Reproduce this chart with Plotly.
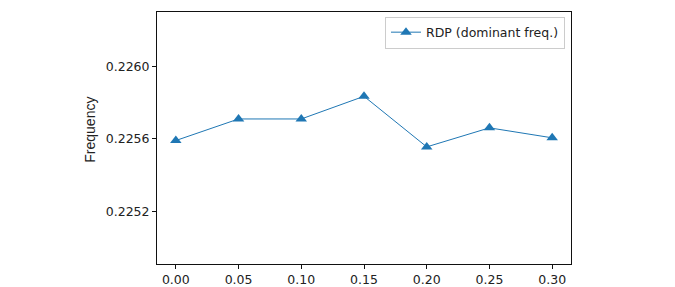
import plotly.graph_objects as go

x_vals = [0.00, 0.05, 0.10, 0.15, 0.20, 0.25, 0.30]
rdp_freq = [0.225591, 0.225710, 0.225710, 0.225835, 0.225556, 0.225661, 0.225606]
x_ticks = [0.00, 0.05, 0.10, 0.15, 0.20, 0.25, 0.30]
y_ticks = [0.2252, 0.2256, 0.2260]
y_label = "Frequency"

fig = go.Figure()
fig.add_trace(go.Scatter(
    x=x_vals, y=rdp_freq, mode="lines+markers",
    name="RDP (dominant freq.)",
    line=dict(color="#1f77b4", width=1),
    marker=dict(symbol="triangle-up", size=10, color="#1f77b4"),
))

axis_common = dict(
    showgrid=False, zeroline=False, showline=True, mirror=True, automargin=False,
    linecolor="#111", linewidth=1, ticks="outside", ticklen=4,
    tickcolor="#111", tickfont=dict(family="DejaVu Sans", size=12.5, color="#222"),
)

fig.update_layout(
    width=675, height=287,
    margin=dict(l=157, r=104, t=12, b=23),
    paper_bgcolor="white", plot_bgcolor="white",
    font=dict(family="DejaVu Sans", color="#222"),
    showlegend=True,
    legend=dict(
        x=0.9855, y=0.982, xanchor="right", yanchor="top",
        bgcolor="white", bordercolor="#ccc", borderwidth=1,
        font=dict(family="DejaVu Sans", size=12.5, color="#222"),
    ),
    xaxis=dict(range=[-0.015, 0.315], tickvals=x_ticks, tickformat=".2f", **axis_common),
    yaxis=dict(range=[0.22491, 0.22630], tickvals=y_ticks, tickformat=".4f", **axis_common),
)

fig.add_annotation(
    text=y_label, xref="paper", yref="paper", x=-0.1618, y=0.533,
    xanchor="center", yanchor="middle", textangle=-90, showarrow=False,
    font=dict(family="Liberation Sans", size=14, color="#222"),
)

fig.write_html("out.html", config={"displayModeBar": False},
               post_script="document.body.style.margin='0';document.body.style.overflow='hidden';")
